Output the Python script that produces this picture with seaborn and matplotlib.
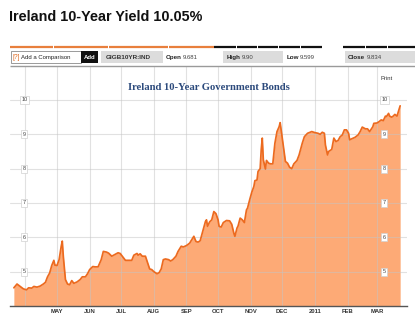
import matplotlib
matplotlib.use("Agg")
import matplotlib.pyplot as plt
import matplotlib.patches as mpatches
import seaborn as sns
import pandas as pd
import numpy as np

# ---------------- data ----------------
dates = [
    "2010-03-21", "2010-03-24", "2010-03-27", "2010-03-30", "2010-04-02", "2010-04-04",
    "2010-04-07", "2010-04-09", "2010-04-12", "2010-04-15", "2010-04-18", "2010-04-20",
    "2010-04-22", "2010-04-24", "2010-04-26", "2010-04-28", "2010-04-29", "2010-05-01",
    "2010-05-03", "2010-05-05", "2010-05-06", "2010-05-07", "2010-05-09", "2010-05-11",
    "2010-05-13", "2010-05-15", "2010-05-17", "2010-05-20", "2010-05-23", "2010-05-25",
    "2010-05-28", "2010-05-30", "2010-06-01", "2010-06-04", "2010-06-06", "2010-06-09",
    "2010-06-12", "2010-06-14", "2010-06-17", "2010-06-19", "2010-06-22", "2010-06-25",
    "2010-06-28", "2010-06-30", "2010-07-02", "2010-07-05", "2010-07-08", "2010-07-11",
    "2010-07-13", "2010-07-16", "2010-07-17", "2010-07-19", "2010-07-21", "2010-07-24",
    "2010-07-26", "2010-07-28", "2010-07-30", "2010-08-01", "2010-08-04", "2010-08-06",
    "2010-08-08", "2010-08-10", "2010-08-12", "2010-08-15", "2010-08-17", "2010-08-19",
    "2010-08-22", "2010-08-24", "2010-08-27", "2010-08-29", "2010-09-01", "2010-09-04",
    "2010-09-07", "2010-09-08", "2010-09-10", "2010-09-12", "2010-09-14", "2010-09-16",
    "2010-09-19", "2010-09-20", "2010-09-21", "2010-09-23", "2010-09-25", "2010-09-27",
    "2010-09-29", "2010-10-01", "2010-10-02", "2010-10-04", "2010-10-06", "2010-10-09",
    "2010-10-12", "2010-10-14", "2010-10-16", "2010-10-17", "2010-10-19", "2010-10-20",
    "2010-10-22", "2010-10-24", "2010-10-26", "2010-10-28", "2010-10-29", "2010-10-31",
    "2010-11-02", "2010-11-04", "2010-11-05", "2010-11-07", "2010-11-08", "2010-11-10",
    "2010-11-11", "2010-11-12", "2010-11-13", "2010-11-15", "2010-11-16", "2010-11-18",
    "2010-11-20", "2010-11-22", "2010-11-24", "2010-11-26", "2010-11-28", "2010-11-29",
    "2010-12-01", "2010-12-04", "2010-12-06", "2010-12-08", "2010-12-10", "2010-12-12",
    "2010-12-15", "2010-12-17", "2010-12-20", "2010-12-22", "2010-12-25", "2010-12-29",
    "2011-01-01", "2011-01-04", "2011-01-06", "2011-01-08", "2011-01-10", "2011-01-11",
    "2011-01-13", "2011-01-14", "2011-01-17", "2011-01-19", "2011-01-21", "2011-01-23",
    "2011-01-25", "2011-01-27", "2011-01-29", "2011-01-31", "2011-02-02", "2011-02-03",
    "2011-02-05", "2011-02-08", "2011-02-11", "2011-02-13", "2011-02-15", "2011-02-18",
    "2011-02-20", "2011-02-22", "2011-02-25", "2011-02-26", "2011-03-01", "2011-03-03",
    "2011-03-05", "2011-03-07", "2011-03-09", "2011-03-10", "2011-03-12", "2011-03-13",
    "2011-03-15", "2011-03-16", "2011-03-18", "2011-03-20", "2011-03-21", "2011-03-23",
]
yields = [
    4.53, 4.64, 4.57, 4.50, 4.47, 4.53,
    4.52, 4.57, 4.55, 4.58, 4.64, 4.69,
    4.85, 4.96, 5.18, 5.33, 5.19, 5.18,
    5.35, 5.74, 5.89, 5.44, 4.77, 4.64,
    4.62, 4.74, 4.66, 4.70, 4.77, 4.85,
    4.85, 4.94, 5.06, 5.15, 5.14, 5.14,
    5.35, 5.59, 5.57, 5.54, 5.45, 5.50,
    5.55, 5.53, 5.45, 5.33, 5.33, 5.33,
    5.48, 5.53, 5.48, 5.52, 5.45, 5.45,
    5.27, 5.08, 5.06, 5.00, 4.94, 4.97,
    5.08, 5.35, 5.37, 5.35, 5.31, 5.35,
    5.45, 5.59, 5.74, 5.72, 5.76, 5.83,
    5.98, 6.03, 5.88, 5.86, 5.90, 6.12,
    6.46, 6.51, 6.32, 6.45, 6.51, 6.75,
    6.69, 6.51, 6.32, 6.30, 6.43, 6.49,
    6.48, 6.38, 6.12, 6.03, 6.27, 6.33,
    6.56, 6.51, 6.43, 6.80, 6.85, 7.09,
    7.31, 7.48, 7.65, 7.67, 7.92, 8.00,
    8.55, 8.89, 8.26, 7.99, 8.24, 8.16,
    8.14, 8.14, 8.74, 9.08, 9.22, 9.34,
    8.89, 8.21, 8.16, 8.04, 8.00, 8.14,
    8.24, 8.40, 8.74, 8.93, 9.03, 9.08,
    9.05, 9.03, 9.00, 9.06, 9.03, 8.69,
    8.40, 8.50, 8.56, 8.89, 8.79, 8.82,
    8.93, 8.98, 9.13, 9.13, 9.03, 8.84,
    8.87, 8.91, 8.98, 9.08, 9.21, 9.16,
    9.16, 9.08, 9.22, 9.32, 9.33, 9.37,
    9.42, 9.40, 9.53, 9.52, 9.61, 9.53,
    9.50, 9.52, 9.58, 9.53, 9.63, 9.83,
]
month_starts = ["2010-04-01", "2010-05-01", "2010-06-01", "2010-07-01", "2010-08-01",
                "2010-09-01", "2010-10-01", "2010-11-01", "2010-12-01", "2011-01-01",
                "2011-02-01", "2011-03-01"]
month_labels = ["", "MAY", "JUN", "JUL", "AUG", "SEP", "OCT", "NOV", "DEC", "2011", "FEB", "MAR"]
y_levels = [5, 6, 7, 8, 9, 10]

page_title = "Ireland 10-Year Yield 10.05%"
chart_title = "Ireland 10-Year Government Bonds"
ticker = "GIGB10YR:IND"
quote_open, quote_high, quote_low, quote_close = "9.681", "9.90", "9.599", "9.834"

# ---------------- style ----------------
sns.set_style("white")
plt.rcParams["font.family"] = ["Liberation Sans", "DejaVu Sans"]

W, H = 415, 324
fig = plt.figure(figsize=(W / 100, H / 100), dpi=100)


def fx(px):
    return px / W


def fy(py):
    return 1 - py / H


df = pd.DataFrame({"date": pd.to_datetime(dates), "yield": yields})

ax = fig.add_axes([fx(10), fy(306), fx(397), (306 - 66) / H])
ax.set_facecolor("white")

ymin, ymax = 4.0, 10.99
ax.fill_between(df["date"], df["yield"], ymin, color="#fdaa76", lw=0, zorder=1)
sns.lineplot(data=df, x="date", y="yield", ax=ax, color="#ec6a1f", lw=1.25, zorder=3)

grid_c = "#c4c4c4"
for m in pd.to_datetime(month_starts):
    ax.axvline(m, color=grid_c, lw=0.8, alpha=0.5, zorder=2)
for yv in y_levels:
    ax.axhline(yv, color=grid_c, lw=0.8, alpha=0.5, zorder=2)

ax.set_xlim(pd.Timestamp("2010-03-17 08:00"), pd.Timestamp("2011-03-29 12:00"))
ax.set_ylim(ymin, ymax)
ax.set_xlabel("")
ax.set_ylabel("")
ax.set_yticks([])
ax.set_xticks(pd.to_datetime(month_starts))
ax.set_xticklabels(month_labels)
ax.tick_params(axis="x", length=0, pad=2.2, labelsize=4.2, labelcolor="#333333")
for t in ax.get_xticklabels():
    t.set_fontweight("bold")
for s in ["top", "left", "right"]:
    ax.spines[s].set_visible(False)
ax.spines["bottom"].set_color("#555555")
ax.spines["bottom"].set_linewidth(1.0)

# y value boxes (left and right)
box = dict(boxstyle="square,pad=0.25", fc="white", ec="#d0d0d0", lw=0.5)
left_x = pd.Timestamp("2010-03-31")
right_x = pd.Timestamp("2011-03-08")
for yv in y_levels:
    ax.text(left_x, yv, str(yv), fontsize=4.0, color="#444444", ha="center", va="center",
            bbox=box, zorder=5)
    ax.text(right_x, yv, str(yv), fontsize=4.0, color="#444444", ha="center", va="center",
            bbox=box, zorder=5)

ax.text(0.5, 1 - (88 - 66) / 240, chart_title, transform=ax.transAxes, ha="center",
        va="center", fontsize=7.7, fontweight="bold", color="#2c4a7c",
        family=["Liberation Serif", "DejaVu Serif"], zorder=6)
fig.text(fx(387), fy(79), "Print", fontsize=4.2, color="#333333", ha="center", va="center")

# ---------------- page header ----------------
fig.text(fx(9), fy(17), page_title, fontsize=10.4, fontweight="bold", color="#111111",
         ha="left", va="center")

# tab strip line
def hline(x0, x1, y, color, lw=1.6):
    fig.add_artist(plt.Line2D([fx(x0), fx(x1)], [fy(y), fy(y)], color=color, lw=lw,
                              transform=fig.transFigure, solid_capstyle="butt"))

for x0, x1 in [(10, 53), (54, 108), (109, 168), (169, 214)]:
    hline(x0, x1, 47, "#e87f3c")
for x0, x1 in [(214, 236), (237, 257), (258, 278), (279, 300), (301, 322),
               (343, 365), (366, 387), (388, 415)]:
    hline(x0, x1, 47, "#111111")


def rect(x0, x1, y0, y1, fc, ec="none", lw=0.6):
    fig.add_artist(mpatches.Rectangle((fx(x0), fy(y1)), fx(x1 - x0), (y1 - y0) / H,
                                      fc=fc, ec=ec, lw=lw, transform=fig.transFigure))


ty = 57.5
rect(10.5, 81, 51.5, 63, "white", "#8a8a8a", 0.6)
fig.text(fx(12), fy(ty), "[?]", fontsize=4.8, color="#e06a20", ha="left", va="center")
fig.text(fx(21), fy(ty), "Add a Comparison", fontsize=4.3, color="#222222", ha="left", va="center")
rect(81, 98, 51.5, 63, "#111111")
fig.text(fx(89.5), fy(ty), "Add", fontsize=4.3, color="white", fontweight="bold",
         ha="center", va="center")
rect(101, 163, 51.5, 63, "#dcdcdc")
fig.text(fx(106), fy(ty), ticker, fontsize=4.6, color="#333333", fontweight="bold",
         ha="left", va="center")
fig.text(fx(166), fy(ty), "Open", fontsize=4.5, color="#222222", fontweight="bold",
         ha="left", va="center")
fig.text(fx(183), fy(ty), quote_open, fontsize=4.3, color="#444444", ha="left", va="center")
rect(223, 283, 51.5, 63, "#dcdcdc")
fig.text(fx(227), fy(ty), "High", fontsize=4.5, color="#222222", fontweight="bold",
         ha="left", va="center")
fig.text(fx(242), fy(ty), quote_high, fontsize=4.3, color="#444444", ha="left", va="center")
fig.text(fx(287), fy(ty), "Low", fontsize=4.5, color="#222222", fontweight="bold",
         ha="left", va="center")
fig.text(fx(300), fy(ty), quote_low, fontsize=4.3, color="#444444", ha="left", va="center")
rect(345, 415, 51.5, 63, "#dcdcdc")
fig.text(fx(348), fy(ty), "Close", fontsize=4.5, color="#222222", fontweight="bold",
         ha="left", va="center")
fig.text(fx(367), fy(ty), quote_close, fontsize=4.3, color="#444444", ha="left", va="center")

hline(10, 415, 66, "#9a9a9a", lw=1.0)

fig.savefig("out.png", dpi=100, facecolor="white")
